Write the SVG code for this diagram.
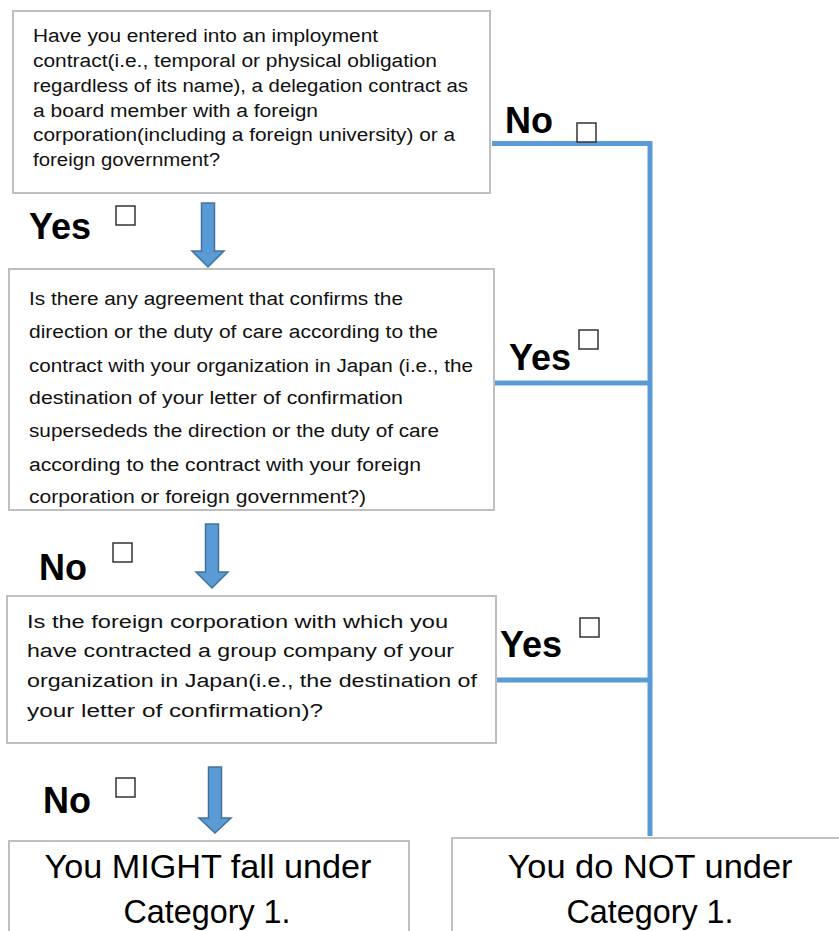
<svg xmlns="http://www.w3.org/2000/svg" width="839" height="931" viewBox="0 0 839 931">
<style>
.box{fill:#fff;stroke:#BFBFBF;stroke-width:2}
.t{font-family:"Liberation Sans",Arial,sans-serif;font-size:18px;fill:#111}
.big{font-family:"Liberation Sans",Arial,sans-serif;font-size:34px;fill:#000;text-anchor:middle}
.lbl{font-family:"Liberation Sans",Arial,sans-serif;font-size:36px;font-weight:bold;fill:#000}
.cb{fill:#fff;stroke:#333;stroke-width:1.5}
.conn{fill:none;stroke:#5B9BD5;stroke-width:5}
.arrow{fill:#5B9BD5;stroke:#41719C;stroke-width:1.5;stroke-linejoin:miter}
</style>
<rect width="839" height="931" fill="#fff"/>
<g id="connectors">
<polyline class="conn" points="492,143.5 650,143.5 650,836"/>
<line class="conn" x1="495" y1="383" x2="650" y2="383"/>
<line class="conn" x1="497" y1="680" x2="650" y2="680"/>
<path class="arrow" d="M201.5,203 H214.5 V251 H224 L208,267 L192,251 H201.5 Z"/>
<path class="arrow" d="M205.5,524 H218.5 V572 H228 L212,588 L196,572 H205.5 Z"/>
<path class="arrow" d="M208.5,767 H221.5 V818 H231 L215,833 L199,818 H208.5 Z"/>
</g>
<g id="q1">
<rect class="box" x="13" y="11" width="477" height="182"/>
<text class="t" x="33" y="42" textLength="345" lengthAdjust="spacingAndGlyphs">Have you entered into an imployment</text>
<text class="t" x="33" y="67" textLength="404" lengthAdjust="spacingAndGlyphs">contract(i.e., temporal or physical obligation</text>
<text class="t" x="33" y="92" textLength="435" lengthAdjust="spacingAndGlyphs">regardless of its name), a delegation contract as</text>
<text class="t" x="33" y="117" textLength="285" lengthAdjust="spacingAndGlyphs">a board member with a foreign</text>
<text class="t" x="33" y="141" textLength="422" lengthAdjust="spacingAndGlyphs">corporation(including a foreign university) or a</text>
<text class="t" x="33" y="166" textLength="187" lengthAdjust="spacingAndGlyphs">foreign government?</text>
</g>
<g id="q2">
<rect class="box" x="9" y="269" width="485" height="241"/>
<text class="t" x="29" y="305" textLength="374" lengthAdjust="spacingAndGlyphs">Is there any agreement that confirms the</text>
<text class="t" x="29" y="338" textLength="409" lengthAdjust="spacingAndGlyphs">direction or the duty of care according to the</text>
<text class="t" x="29" y="372" textLength="444" lengthAdjust="spacingAndGlyphs">contract with your organization in Japan (i.e., the</text>
<text class="t" x="29" y="404" textLength="374" lengthAdjust="spacingAndGlyphs">destination of your letter of confirmation</text>
<text class="t" x="29" y="437" textLength="410" lengthAdjust="spacingAndGlyphs">supersededs the direction or the duty of care</text>
<text class="t" x="29" y="471" textLength="392" lengthAdjust="spacingAndGlyphs">according to the contract with your foreign</text>
<text class="t" x="29" y="503" textLength="337" lengthAdjust="spacingAndGlyphs">corporation or foreign government?)</text>
</g>
<g id="q3">
<rect class="box" x="7" y="596" width="489" height="147"/>
<text class="t" x="27" y="628" textLength="421" lengthAdjust="spacingAndGlyphs">Is the foreign corporation with which you</text>
<text class="t" x="27" y="657" textLength="427" lengthAdjust="spacingAndGlyphs">have contracted a group company of your</text>
<text class="t" x="27" y="687" textLength="450" lengthAdjust="spacingAndGlyphs">organization in Japan(i.e., the destination of</text>
<text class="t" x="27" y="717" textLength="296" lengthAdjust="spacingAndGlyphs">your letter of confirmation)?</text>
</g>
<g id="result-might">
<rect class="box" x="9" y="841" width="400" height="100"/>
<text class="big" x="208" y="878" textLength="327" lengthAdjust="spacingAndGlyphs">You MIGHT fall under</text>
<text class="big" x="207" y="923" textLength="167" lengthAdjust="spacingAndGlyphs">Category 1.</text>
</g>
<g id="result-not">
<rect class="box" x="452" y="838" width="400" height="100"/>
<text class="big" x="650" y="878" textLength="285" lengthAdjust="spacingAndGlyphs">You do NOT under</text>
<text class="big" x="650" y="923" textLength="167" lengthAdjust="spacingAndGlyphs">Category 1.</text>
</g>
<g id="label-no-1">
<text class="lbl" x="505" y="133">No</text>
<rect class="cb" x="577" y="123" width="19" height="19"/>
</g>
<g id="label-yes-1">
<text class="lbl" x="29" y="239">Yes</text>
<rect class="cb" x="116" y="206" width="19" height="19"/>
</g>
<g id="label-yes-2">
<text class="lbl" x="509" y="370">Yes</text>
<rect class="cb" x="579" y="330" width="19" height="19"/>
</g>
<g id="label-no-2">
<text class="lbl" x="39" y="580">No</text>
<rect class="cb" x="113" y="543" width="19" height="19"/>
</g>
<g id="label-yes-3">
<text class="lbl" x="500" y="657">Yes</text>
<rect class="cb" x="580" y="618" width="19" height="19"/>
</g>
<g id="label-no-3">
<text class="lbl" x="43" y="813">No</text>
<rect class="cb" x="116" y="778" width="19" height="19"/>
</g>
</svg>
